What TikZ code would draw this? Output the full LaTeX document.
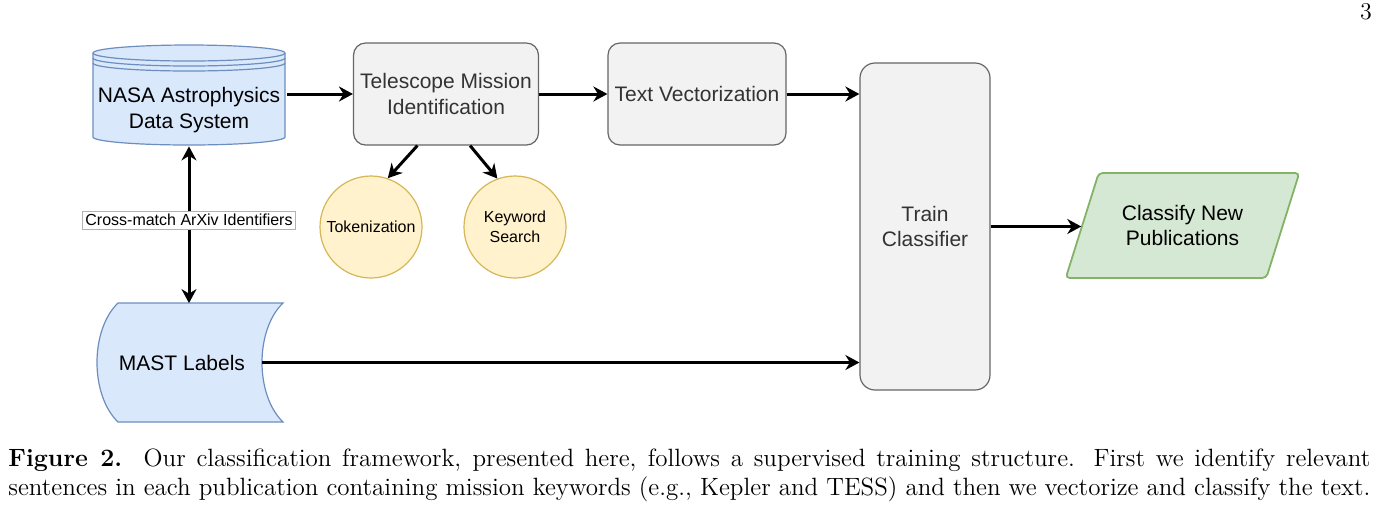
\documentclass[tikz,border=0pt]{standalone}
\usepackage{fontspec}
\setsansfont{Liberation Sans}
\usetikzlibrary{arrows.meta,shapes.geometric}

\definecolor{dbfill}{HTML}{DAE8FC}
\definecolor{dbline}{HTML}{6C8EBF}
\definecolor{boxfill}{HTML}{F2F2F2}
\definecolor{boxline}{HTML}{666666}
\definecolor{boxtext}{HTML}{333333}
\definecolor{tokfill}{HTML}{FFF2CC}
\definecolor{tokline}{HTML}{D6B656}
\definecolor{clsfill}{HTML}{D5E8D4}
\definecolor{clsline}{HTML}{82B366}

\tikzset{arr/.tip={Stealth[length=7pt,width=7.5pt]}}

\begin{document}
\begin{tikzpicture}[x=0.5pt,y=-0.5pt,
  lbl/.style={font=\sffamily\fontsize{10.5}{12.8}\selectfont,align=center},
  small/.style={font=\sffamily\fontsize{8}{9.8}\selectfont,align=center},
  procbox/.style={lbl,text=boxtext,draw=boxline,fill=boxfill,line width=0.6pt,
    rounded corners=6pt,minimum width=89pt,minimum height=51pt},
  bubble/.style={small,circle,draw=tokline,fill=tokfill,line width=0.6pt,
    minimum size=51pt,inner sep=0pt},
  flow/.style={line width=1.5pt,-arr},
  both/.style={line width=1.5pt,arr-arr}]
\useasboundingbox (0,0) rectangle (1380,516);

% data store
\draw[dbline,fill=dbfill,line width=0.6pt] (93,53) -- (93,137)
  arc[start angle=180,end angle=360,x radius=48pt,y radius=4pt] -- (285,53)
  arc[start angle=0,end angle=180,x radius=48pt,y radius=4pt] -- cycle;
\foreach \yy in {53,58,63}
  \draw[dbline,line width=0.6pt] (93,\yy) arc[start angle=180,end angle=360,x radius=48pt,y radius=4pt];
\node[lbl,minimum width=96pt,minimum height=36pt] (ads) at (189,110) {NASA Astrophysics\\Data System};

% stored data
\draw[dbline,fill=dbfill,line width=0.6pt] (118,303) -- (283,303)
  .. controls (255,330) and (255,395) .. (283,422) -- (118,422)
  .. controls (90,395) and (90,330) .. (118,303) -- cycle;
\node[lbl,minimum width=80pt,minimum height=59pt] (mast) at (182,362.5) {MAST Labels};

\node[procbox] (tele) at (446,94) {Telescope Mission\\Identification};
\node[procbox] (vec) at (697,94) {Text Vectorization};
\node[procbox,rounded corners=7.5pt,minimum width=65pt,minimum height=163.5pt] (train) at (925,226.5) {Train\\Classifier};
\node[bubble] (tok) at (371,227) {Tokenization};
\node[bubble] (key) at (515,227) {Keyword\\Search};
\node[lbl,trapezium,trapezium left angle=64,trapezium right angle=116,trapezium stretches=true,
  draw=clsline,fill=clsfill,line width=0.9pt,rounded corners=2pt,
  minimum width=117.5pt,minimum height=52.5pt] (cls) at (1182.5,225.5) {Classify New\\Publications};

\draw[flow] (ads.east |- tele.west) -- (tele.west);
\draw[flow] (tele.east) -- (vec.west);
\draw[flow] (vec.east) -- (vec.east -| train.west);
\draw[flow] (mast.east) -- (mast.east -| train.west);
\draw[flow] (train.east) -- (train.east -| cls.west);
\draw[flow] (tele.-119) -- (tok.71);
\draw[flow] (tele.-65) -- (key.110);
\draw[both] (ads.south) -- node[pos=0.47,small,fill=white,draw=gray!60,line width=0.4pt,inner sep=1.5pt] (xm) {Cross-match ArXiv Identifiers} (ads.south |- mast.north);

\node[anchor=base,font=\fontsize{12}{14}\selectfont] (pg) at (1366,19) {3};
\node[anchor=north west,inner sep=0pt,text width=681pt,align=justify,
  font=\fontsize{12.5}{14.5}\selectfont] (cap) at (8,448)
  {\textbf{Figure 2.}\ \ Our classification framework, presented here, follows a supervised training structure.  First we identify relevant\linebreak sentences in each publication containing mission keywords (e.g., Kepler and TESS) and then we vectorize and classify the text.};
\end{tikzpicture}
\end{document}
